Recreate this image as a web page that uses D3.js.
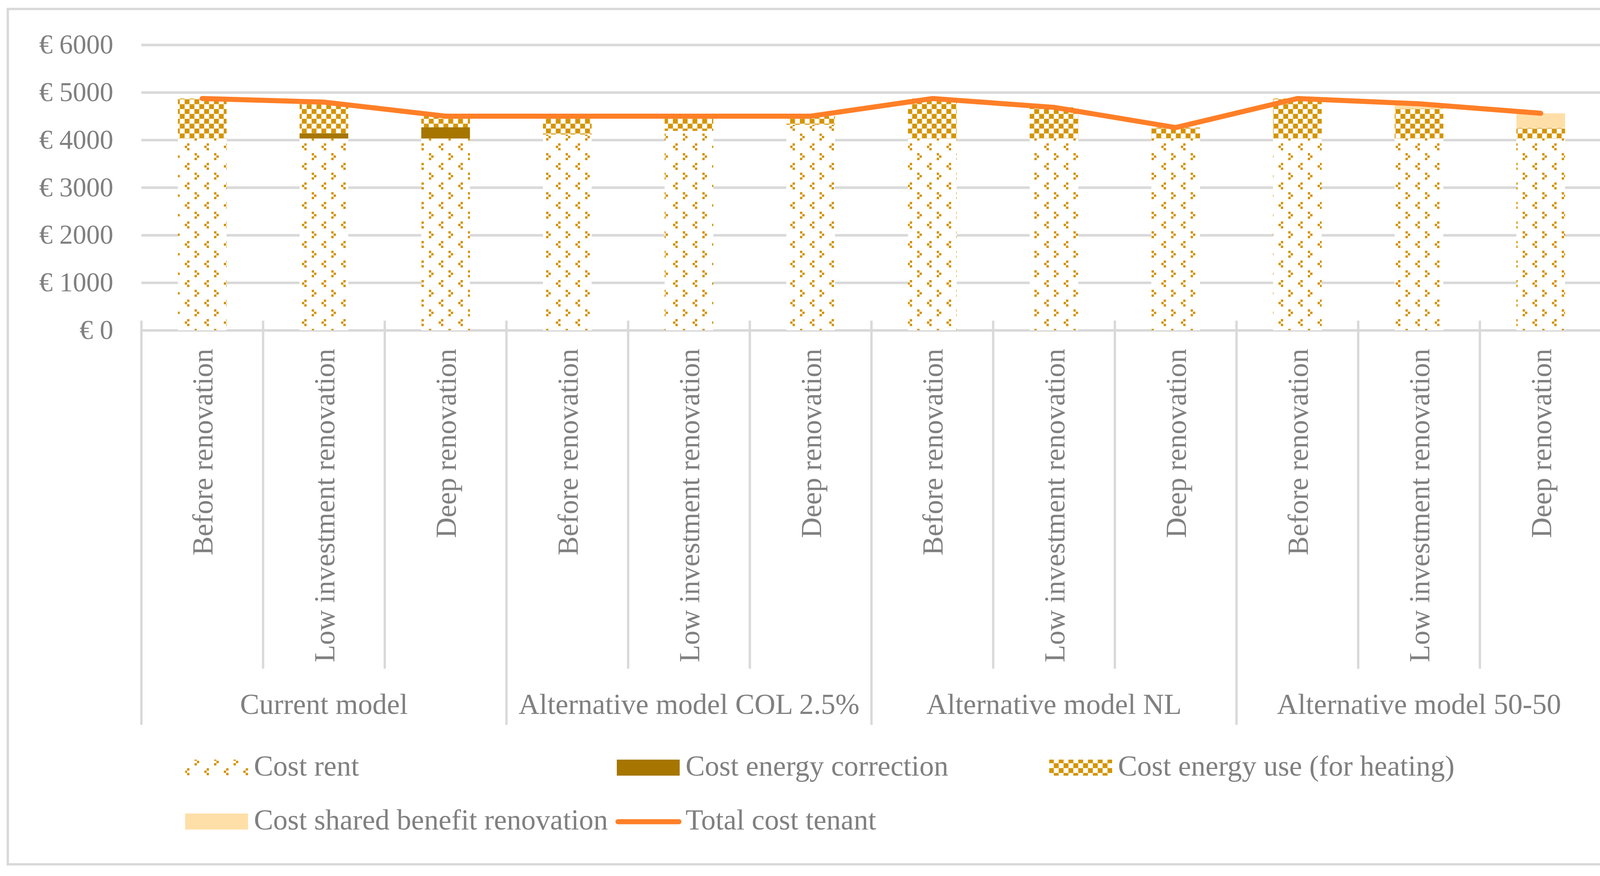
<!DOCTYPE html>
<html>
<head>
<meta charset="utf-8">
<script src="https://cdn.jsdelivr.net/npm/d3@7"></script>
<style>
  body { margin: 0; background: #fff; }
  svg text { font-family: "Liberation Serif", "DejaVu Serif", serif; fill: #808080; }
</style>
</head>
<body>
<div id="chart"></div>
<script>
// chart data
const groups = ["Current model", "Alternative model COL 2.5%", "Alternative model NL", "Alternative model 50-50"];
const scenarios = ["Before renovation", "Low investment renovation", "Deep renovation"];
const costRent             = [4030, 4030, 4030, 4115, 4190, 4320, 4030, 4030, 4030, 4030, 4030, 4030];
const costEnergyCorrection = [0, 110, 235, 0, 0, 0, 0, 0, 0, 0, 0, 0];
const costEnergyUse        = [840, 655, 235, 385, 310, 180, 840, 655, 230, 840, 627, 223];
const costSharedBenefit    = [0, 0, 0, 0, 0, 0, 0, 0, 0, 0, 103, 307];
const totalCostTenant      = [4870, 4795, 4500, 4500, 4500, 4500, 4870, 4685, 4260, 4870, 4760, 4560];
const yTicks = [0, 1000, 2000, 3000, 4000, 5000, 6000];

const seriesKeys = ["rent", "correction", "use", "shared"];
const seriesNames = {
    rent: "Cost rent",
    correction: "Cost energy correction",
    use: "Cost energy use (for heating)",
    shared: "Cost shared benefit renovation"
};

const W = 4224, H = 2243;
const plot = {left: 362, right: 4100, top: 114.7, bottom: 845.5};
const gold = "#d49400", brown = "#a67600", peach = "#ffdfa8", orange = "#ff7f27", grid = "#d9d9d9";
const fontSize = 74;

// build rows
const rows = [];
groups.forEach((g, gi) => {
    scenarios.forEach((s, si) => {
        const i = gi * scenarios.length + si;
        rows.push({
            key: g + "|" + s, group: g, label: s,
            rent: costRent[i], correction: costEnergyCorrection[i],
            use: costEnergyUse[i], shared: costSharedBenefit[i],
            total: totalCostTenant[i]
        });
    });
});

const svg = d3.select("#chart").append("svg")
    .attr("width", W).attr("height", H)
    .style("background", "#fff");

// patterns
const defs = svg.append("defs");
const rentPat = defs.append("pattern")
    .attr("id", "patRent").attr("patternUnits", "userSpaceOnUse")
    .attr("x", 23).attr("y", 17).attr("width", 50).attr("height", 50);
rentPat.append("rect").attr("width", 50).attr("height", 50).attr("fill", "#fff");
// "<" chevron and ">" chevron made of small squares
[[6, 0], [0, 6], [6, 12], [25, 25], [31, 31], [25, 37]].forEach(p => {
    rentPat.append("rect").attr("x", p[0]).attr("y", p[1]).attr("width", 6).attr("height", 6).attr("fill", gold);
});

const usePat = defs.append("pattern")
    .attr("id", "patUse").attr("patternUnits", "userSpaceOnUse")
    .attr("x", 22.7).attr("y", 4.2).attr("width", 25).attr("height", 25);
usePat.append("rect").attr("width", 25).attr("height", 25).attr("fill", "#fff");
usePat.append("rect").attr("width", 12.5).attr("height", 12.5).attr("fill", gold);
usePat.append("rect").attr("x", 12.5).attr("y", 12.5).attr("width", 12.5).attr("height", 12.5).attr("fill", gold);

const fills = {rent: "url(#patRent)", correction: brown, use: "url(#patUse)", shared: peach};

// outer border
svg.append("rect")
    .attr("x", 20).attr("y", 23).attr("width", 4175).attr("height", 2190)
    .attr("fill", "none").attr("stroke", grid).attr("stroke-width", 6);

// scales
const x = d3.scaleBand()
    .domain(rows.map(d => d.key))
    .range([plot.left, plot.right])
    .paddingInner(0.6).paddingOuter(0.3);
const step = x.step();

const y = d3.scaleLinear().domain([0, 6000]).range([plot.bottom, plot.top]);

// gridlines + y labels
const yAxis = d3.axisLeft(y)
    .tickValues(yTicks)
    .tickSize(-(plot.right - plot.left))
    .tickPadding(72)
    .tickFormat(d => "€ " + d);

const yAxisG = svg.append("g")
    .attr("class", "yAxisG")
    .attr("transform", "translate(" + plot.left + ",0)")
    .call(yAxis);
yAxisG.select(".domain").remove();
yAxisG.selectAll(".tick line").attr("stroke", grid).attr("stroke-width", 6.5);
yAxisG.selectAll(".tick text")
    .attr("font-size", 69)
    .attr("fill", "#808080")
    .attr("font-family", "Liberation Serif, DejaVu Serif, serif");

// category separators
const bounds = d3.range(rows.length + 1);
svg.append("g").selectAll("line")
    .data(bounds)
    .join("line")
    .attr("x1", i => plot.left + step * i)
    .attr("x2", i => plot.left + step * i)
    .attr("y1", 821)
    .attr("y2", i => i % scenarios.length === 0 ? 1856 : 1712)
    .attr("stroke", grid).attr("stroke-width", 6);

// stacked bars
const stacked = d3.stack().keys(seriesKeys)(rows);
const barsG = svg.append("g").attr("class", "barsG");
stacked.forEach(layer => {
    const key = layer.key;
    barsG.append("g").selectAll("rect")
        .data(layer.filter(d => d[1] - d[0] > 0))
        .join("rect")
        .attr("x", d => x(d.data.key))
        .attr("width", x.bandwidth())
        .attr("y", d => y(d[1]))
        .attr("height", d => y(d[0]) - y(d[1]))
        .attr("fill", fills[key]);
});

// total line
const line = d3.line()
    .x(d => x(d.key) + x.bandwidth() / 2)
    .y(d => y(d.total));
svg.append("path")
    .datum(rows)
    .attr("d", line)
    .attr("fill", "none")
    .attr("stroke", orange)
    .attr("stroke-width", 13)
    .attr("stroke-linecap", "round")
    .attr("stroke-linejoin", "round");

// scenario labels (rotated)
svg.append("g").selectAll("text")
    .data(rows)
    .join("text")
    .attr("transform", d => "translate(" + (x(d.key) + x.bandwidth() / 2) + ",893) rotate(-90)")
    .attr("text-anchor", "end")
    .attr("dy", "0.36em")
    .attr("font-size", 73)
    .text(d => d.label);

// group labels
svg.append("g").selectAll("text")
    .data(groups)
    .join("text")
    .attr("x", (g, gi) => plot.left + step * scenarios.length * (gi + 0.5))
    .attr("y", 1828)
    .attr("text-anchor", "middle")
    .attr("font-size", fontSize)
    .text(g => g);

// legend
const legendItems = [
    {key: "rent", x: 474, row: 0},
    {key: "correction", x: 1579, row: 0},
    {key: "use", x: 2686, row: 0},
    {key: "shared", x: 474, row: 1},
    {key: "total", x: 1579, row: 1}
];
const rowBase = [1986, 2124];
const legendG = svg.append("g").attr("class", "legendG");
legendItems.forEach(it => {
    const base = rowBase[it.row];
    if (it.key === "total") {
        legendG.append("line")
            .attr("x1", 1582).attr("x2", 1738)
            .attr("y1", base - 20).attr("y2", base - 20)
            .attr("stroke", orange).attr("stroke-width", 13)
            .attr("stroke-linecap", "round");
    } else {
        legendG.append("rect")
            .attr("x", it.x).attr("y", base - 41)
            .attr("width", 161).attr("height", 41)
            .attr("fill", fills[it.key]);
    }
    legendG.append("text")
        .attr("x", it.x + 176)
        .attr("y", base)
        .attr("font-size", fontSize)
        .text(it.key === "total" ? "Total cost tenant" : seriesNames[it.key]);
});
</script>
</body>
</html>
